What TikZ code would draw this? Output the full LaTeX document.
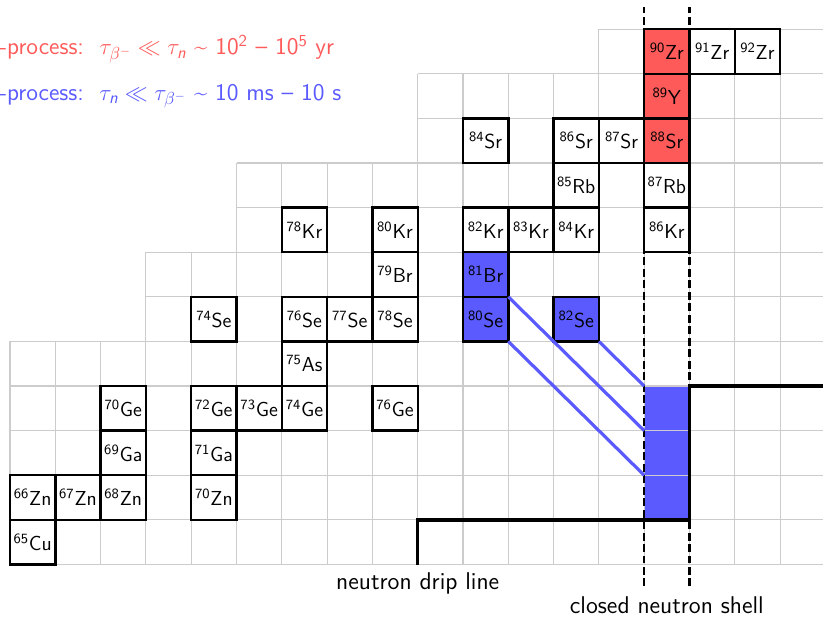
\documentclass[tikz,border=0pt]{standalone}
\usepackage{amsmath}
\usepackage{tikz}
\usetikzlibrary{positioning}

\definecolor{sred}{RGB}{255,90,90}
\definecolor{rblue}{RGB}{90,90,255}

\begin{document}
\begin{tikzpicture}[
    x=1cm, y=0.985cm,
    gridline/.style={draw, gray!40, line width=0.7pt},
    nuclide/.style={rectangle, draw, line width=1.5pt, minimum width=1cm, minimum height=0.985cm, inner sep=0pt, outer sep=0pt, font=\fontsize{12.7}{15}\sffamily},
    sproc/.style={nuclide, fill=sred},
    rproc/.style={nuclide, fill=rblue},
    decay/.style={draw, rblue, line width=2pt},
    drip/.style={draw, line width=2pt},
    shell/.style={draw, line width=1.4pt, dash pattern=on 5pt off 2.2pt},
    note/.style={inner sep=0pt, font=\fontsize{15.2}{18}\sffamily},
    proc/.style={anchor=base west, inner sep=0pt, font=\fontsize{15}{18}\sffamily}
]
\useasboundingbox (-0.221,-1.159) rectangle (17.947,12.652);

% Waiting point block
\node[rectangle, fill=rblue, minimum width=1cm, minimum height=2.955cm, inner sep=0pt, outer sep=0pt] (wp) at (14.5,2.5) {};
\coordinate (wp2) at (14,2);
\coordinate (wp3) at (14,3);

% Grid
\draw[gridline, step=1] (0,0) grid (18,5);
\draw[gridline, step=1] (3,5) grid (18,7);
\draw[gridline, step=1] (5,7) grid (18,9);
\draw[gridline, step=1] (9,9) grid (18,11);
\draw[gridline, step=1] (13,11) grid (18,12);

% Drip line and closed shell
\draw[drip] (9,0) -- (9,1) -- (15,1) -- (15,4) -- (18,4);
\draw[shell] (14,-0.49) -- (14,12.5);
\draw[shell] (15,-0.49) -- (15,12.5);

% Nuclides
\node[nuclide] (cu65) at (0.5,0.5) {\textsuperscript{65}Cu};
\node[nuclide] (zn66) at (0.5,1.5) {\textsuperscript{66}Zn};
\node[nuclide] (zn67) at (1.5,1.5) {\textsuperscript{67}Zn};
\node[nuclide] (zn68) at (2.5,1.5) {\textsuperscript{68}Zn};
\node[nuclide] (zn70) at (4.5,1.5) {\textsuperscript{70}Zn};
\node[nuclide] (ga69) at (2.5,2.5) {\textsuperscript{69}Ga};
\node[nuclide] (ga71) at (4.5,2.5) {\textsuperscript{71}Ga};
\node[nuclide] (ge70) at (2.5,3.5) {\textsuperscript{70}Ge};
\node[nuclide] (ge72) at (4.5,3.5) {\textsuperscript{72}Ge};
\node[nuclide] (ge73) at (5.5,3.5) {\textsuperscript{73}Ge};
\node[nuclide] (ge74) at (6.5,3.5) {\textsuperscript{74}Ge};
\node[nuclide] (ge76) at (8.5,3.5) {\textsuperscript{76}Ge};
\node[nuclide] (as75) at (6.5,4.5) {\textsuperscript{75}As};
\node[nuclide] (se74) at (4.5,5.5) {\textsuperscript{74}Se};
\node[nuclide] (se76) at (6.5,5.5) {\textsuperscript{76}Se};
\node[nuclide] (se77) at (7.5,5.5) {\textsuperscript{77}Se};
\node[nuclide] (se78) at (8.5,5.5) {\textsuperscript{78}Se};
\node[rproc] (se80) at (10.5,5.5) {\textsuperscript{80}Se};
\node[rproc] (se82) at (12.5,5.5) {\textsuperscript{82}Se};
\node[nuclide] (br79) at (8.5,6.5) {\textsuperscript{79}Br};
\node[rproc] (br81) at (10.5,6.5) {\textsuperscript{81}Br};
\node[nuclide] (kr78) at (6.5,7.5) {\textsuperscript{78}Kr};
\node[nuclide] (kr80) at (8.5,7.5) {\textsuperscript{80}Kr};
\node[nuclide] (kr82) at (10.5,7.5) {\textsuperscript{82}Kr};
\node[nuclide] (kr83) at (11.5,7.5) {\textsuperscript{83}Kr};
\node[nuclide] (kr84) at (12.5,7.5) {\textsuperscript{84}Kr};
\node[nuclide] (kr86) at (14.5,7.5) {\textsuperscript{86}Kr};
\node[nuclide] (rb85) at (12.5,8.5) {\textsuperscript{85}Rb};
\node[nuclide] (rb87) at (14.5,8.5) {\textsuperscript{87}Rb};
\node[nuclide] (sr84) at (10.5,9.5) {\textsuperscript{84}Sr};
\node[nuclide] (sr86) at (12.5,9.5) {\textsuperscript{86}Sr};
\node[nuclide] (sr87) at (13.5,9.5) {\textsuperscript{87}Sr};
\node[sproc] (sr88) at (14.5,9.5) {\textsuperscript{88}Sr};
\node[sproc] (y89) at (14.5,10.5) {\textsuperscript{89}Y};
\node[sproc] (zr90) at (14.5,11.5) {\textsuperscript{90}Zr};
\node[nuclide] (zr91) at (15.5,11.5) {\textsuperscript{91}Zr};
\node[nuclide] (zr92) at (16.5,11.5) {\textsuperscript{92}Zr};

% Decay paths
\draw[decay] (se80.north east) -- (wp3);
\draw[decay] (se80.south east) -- (wp2);
\draw[decay] (se82.south east) -- (wp.north west);

% Labels
\node[proc, text=sred] (sline) at (-0.44,11.42) {s-process:\ \ $\tau_{\beta^-} \ll \tau_{\text{\sffamily\itshape n}}$ \textasciitilde\ 10\textsuperscript{2} -- 10\textsuperscript{5} yr};
\node[proc, text=rblue] (rline) at (-0.42,10.41) {r-process:\ \ $\tau_{\text{\sffamily\itshape n}} \ll \tau_{\beta^-}$ \textasciitilde\ 10 ms -- 10 s};
\node[note] (dripl) at (9,-0.42) {neutron drip line};
\node[note] (shelll) at (14.5,-0.91) {closed neutron shell};

\end{tikzpicture}
\end{document}
